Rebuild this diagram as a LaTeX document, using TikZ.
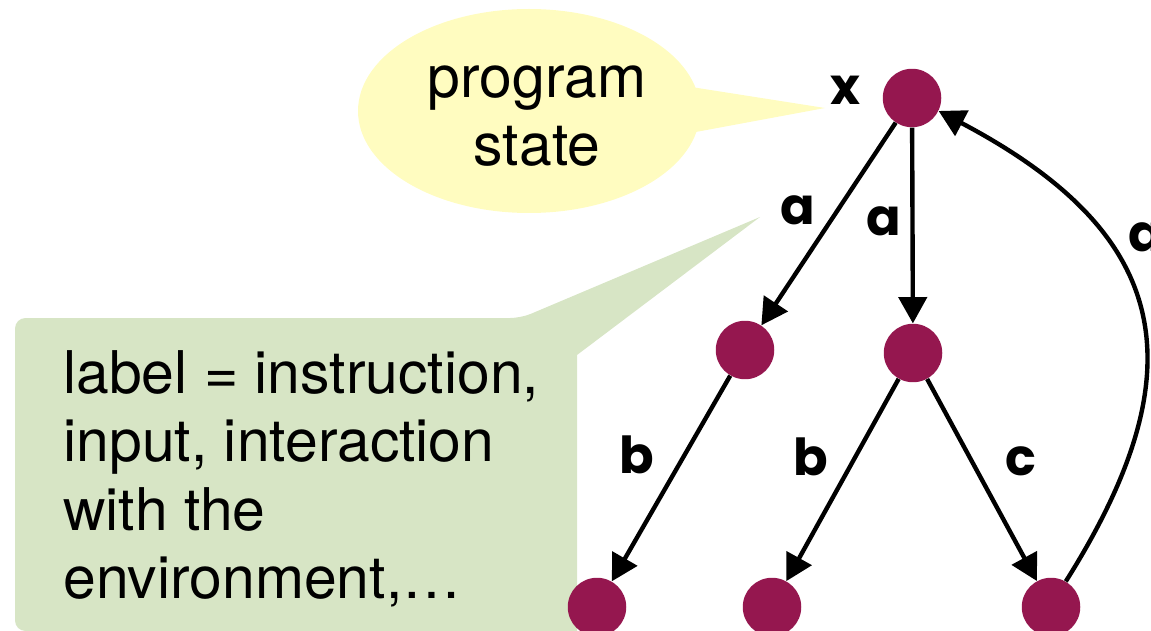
\documentclass[tikz,border=0pt]{standalone}
\usepackage{fontspec}
\setmainfont{TeX Gyre Heros}
\newfontfamily\lblfont{Poppins}
\usetikzlibrary{arrows.meta}
\definecolor{maroon}{HTML}{95174F}
\definecolor{bubY}{HTML}{FFFCC0}
\definecolor{bubG}{HTML}{D7E5C5}
\begin{document}
\begin{tikzpicture}[x=0.02cm,y=-0.02cm,
  state/.style={circle,fill=maroon,inner sep=0pt,minimum size=1.17cm},
  arr/.style={line width=2.5pt,-{Triangle[length=15pt,width=16pt]}},
  lbl/.style={font=\lblfont\bfseries\fontsize{29}{32}\selectfont,inner sep=0pt},
  big/.style={font=\fontsize{33.5}{39}\selectfont,inner sep=0pt}
]
\useasboundingbox (0,0) rectangle (1151,631);
% yellow speech bubble
\fill[bubY] (529,111) ellipse [x radius=171, y radius=102];
\fill[bubY] (685,86) -- (825,108) -- (685,134) -- cycle;
\node[big,align=center,anchor=north] (ps) at (537,65) {program\\state};
% green callout
\fill[bubG] [rounded corners=6pt] (577,631) -- (15,631) -- (15,318) -- (521,318)
  [sharp corners] -- (760,217) -- (577,355) -- cycle;
\node[big,align=left,anchor=north west] (lt) at (63,350)
  {label = instruction,\\input, interaction\\with the\\environment,\dots};
% states
\node[state] (top) at (912,98) {};
\node[state] (ml) at (745,350) {};
\node[state] (mr) at (913,353) {};
\node[state] (bl) at (597,607) {};
\node[state] (bm) at (772,607) {};
\node[state] (br) at (1051,607) {};
% transitions
\draw[arr] (top) -- (ml);
\draw[arr] (top) -- (mr);
\draw[arr] (ml) -- (bl);
\draw[arr] (mr) -- (bm);
\draw[arr] (mr) -- (br);
\draw[arr] (br.60) .. controls (1201,367) and (1170,233) .. (top.-26);
% labels
\node[lbl] (lx) at (845,90) {x};
\node[lbl] (la1) at (798,210) {a};
\node[lbl] (la2) at (884,221) {a};
\node[lbl] (la3) at (1146,237) {a};
\node[lbl] (lb1) at (637,455) {b};
\node[lbl] (lb2) at (811,457) {b};
\node[lbl] (lc) at (1021,461) {c};
\end{tikzpicture}
\end{document}
